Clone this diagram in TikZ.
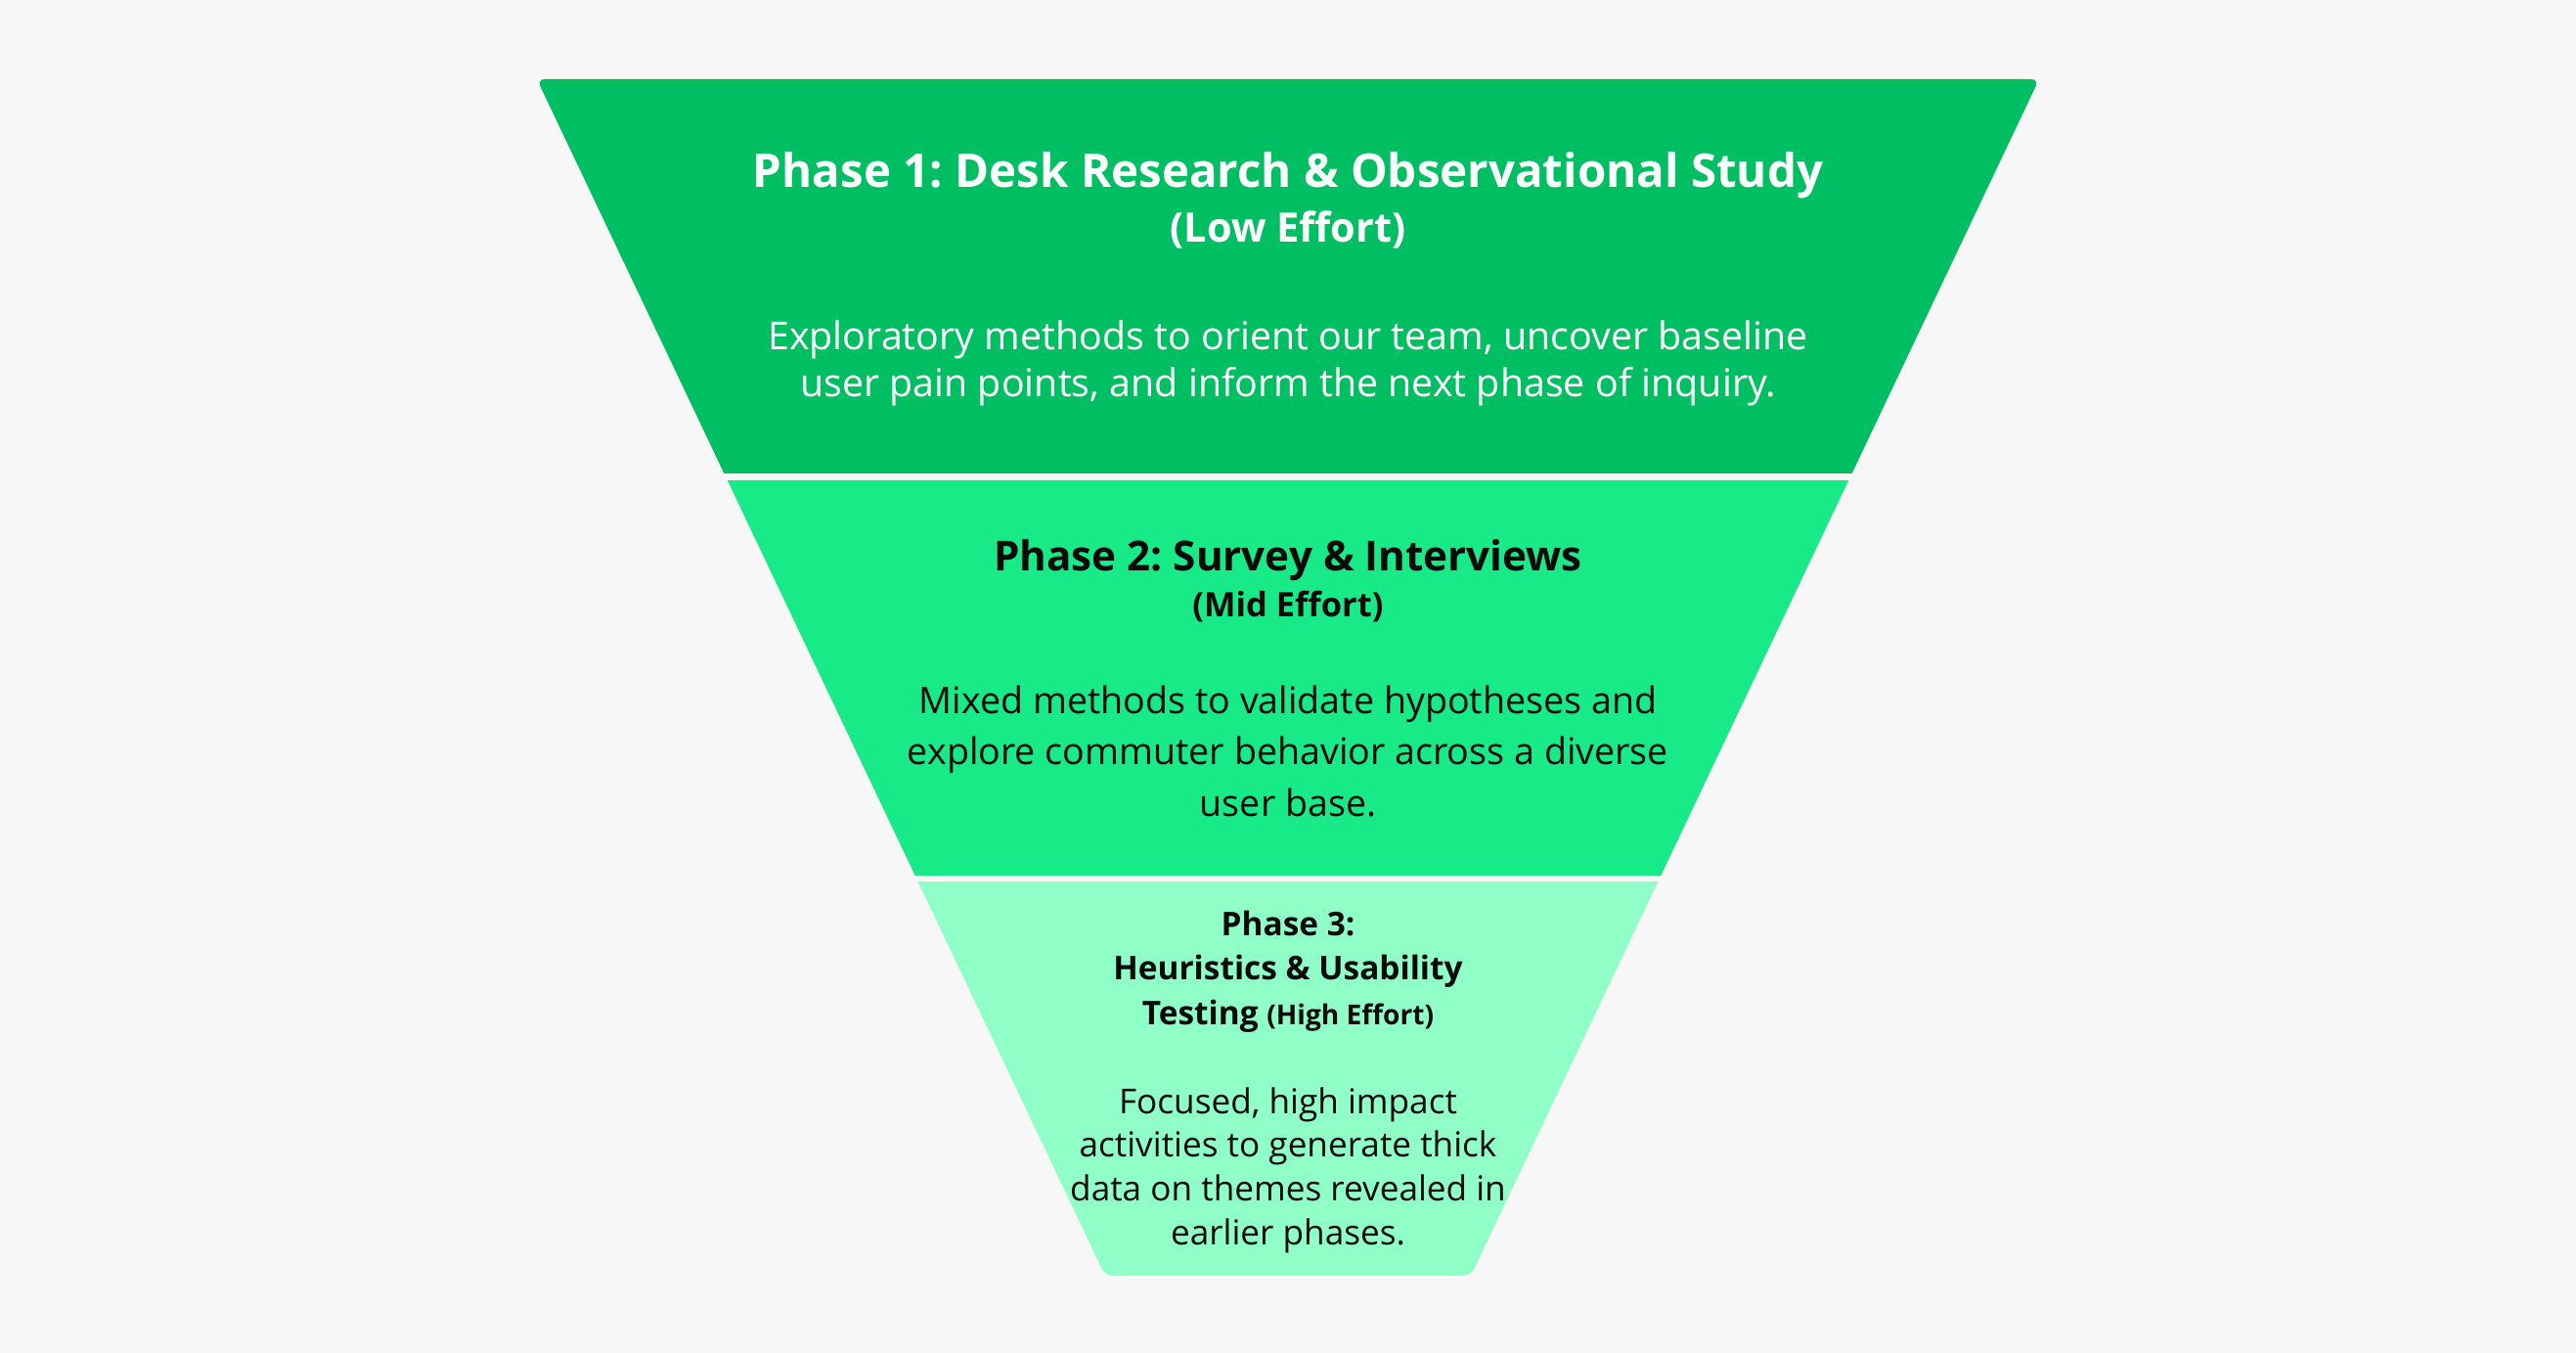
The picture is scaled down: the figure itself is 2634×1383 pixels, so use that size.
\documentclass[tikz,border=0pt]{standalone}
\usepackage{fontspec}
\setmainfont{Open Sans}
\frenchspacing
\usetikzlibrary{positioning}
\definecolor{pagebg}{HTML}{F7F7F7}
\definecolor{lowgreen}{HTML}{00BF63}
\definecolor{midgreen}{HTML}{17EA86}
\definecolor{highgreen}{HTML}{8FFFC7}
\definecolor{inkdark}{HTML}{0A0A0A}

\begin{document}
\begin{tikzpicture}[x=0.01cm,y=-0.01cm,
  phasetitle/.style={anchor=base, align=center, inner sep=0pt, font=\bfseries#1},
  phasebody/.style={anchor=base, align=center, inner sep=0pt, font=#1}]
\fill[pagebg] (0,0) rectangle (2634,1383);
\useasboundingbox (0,0) rectangle (2634,1383);

% the three bands of the funnel
\fill[lowgreen] (740.4,484) [rounded corners=0.08cm] -- (549,81) -- (2085,81) [sharp corners] -- (1893.6,484) -- cycle;
\fill[midgreen] (743.8,491) -- (1890.2,491) -- (1698.3,895) -- (935.7,895) -- cycle;
\fill[highgreen] (938.5,901) -- (1695.5,901) [rounded corners=0.08cm] -- (1504,1304) -- (1130,1304) [sharp corners] -- cycle;

% phase 1 (base = last line)
\node[phasetitle={\fontsize{13.5}{16}\selectfont}, text=white] (t1) at (1317,192)
  {Phase 1: Desk Research \& Observational Study};
\node[phasetitle={\fontsize{11.8}{14}\selectfont}, text=white] (s1) at (1317,248) {(Low Effort)};
\node[phasebody={\fontsize{11.2}{13.9}\selectfont}, text=white] (b1) at (1317,406)
  {Exploratory methods to orient our team, uncover baseline\\user pain points, and inform the next phase of inquiry.};

% phase 2
\node[phasetitle={\fontsize{12}{15}\selectfont}, text=inkdark] (t2) at (1317,584)
  {Phase 2: Survey \& Interviews};
\node[phasetitle={\fontsize{9.8}{12}\selectfont}, text=inkdark] (s2) at (1317,631) {(Mid Effort)};
\node[phasebody={\fontsize{10.7}{14.8}\selectfont}, text=inkdark] (b2) at (1317,834)
  {Mixed methods to validate hypotheses and\\explore commuter behavior across a diverse\\user base.};

% phase 3
\node[phasetitle={\fontsize{9.5}{12.8}\selectfont}, text=inkdark] (t3) at (1317,1047)
  {Phase 3:\\Heuristics \& Usability\\Testing {\fontsize{8}{8}\selectfont(High Effort)}};
\node[phasebody={\fontsize{10}{12.7}\selectfont}, text=inkdark] (b3) at (1317,1272)
  {Focused, high impact\\activities to generate thick\\data on themes revealed in\\earlier phases.};
\end{tikzpicture}
\end{document}
